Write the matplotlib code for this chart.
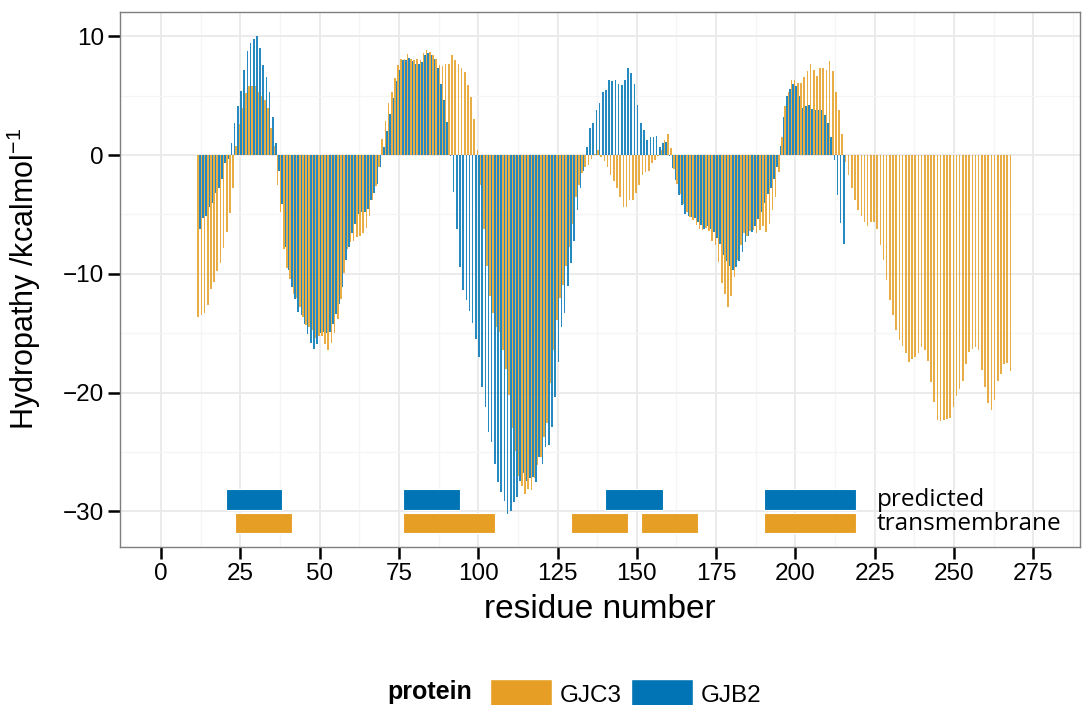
import numpy as np
import matplotlib
matplotlib.use("Agg")
import matplotlib.pyplot as plt
from matplotlib.patches import Patch

plt.rcParams['font.family'] = ['Liberation Sans', 'DejaVu Sans']
plt.rcParams['mathtext.fontset'] = 'custom'
plt.rcParams['mathtext.rm'] = 'Liberation Sans'

# hydropathy values per residue
gjc3_start = 12
gjc3 = [
    -13.6, -13.5, -13.3, -12.6, -11.3, -10.7, -9.8, -9.1, -7.8, -6.5,
    -4.9, -2.8, 0.8, 2.6, 4.0, 5.2, 5.8, 5.8, 5.8, 5.3,
    5.0, 4.6, 4.0, 2.3, 0.8, -2.5, -4.8, -7.9, -9.5, -10.4,
    -11.7, -12.0, -12.8, -13.6, -14.3, -14.5, -14.7, -15.4, -15.2, -15.2,
    -15.9, -16.4, -15.8, -15.0, -13.8, -12.1, -9.9, -7.9, -7.3, -7.2,
    -6.9, -6.8, -6.6, -6.1, -5.1, -3.8, -2.6, -1.0,
    1.35, 2.9, 4.4, 5.3, 6.5, 7.6, 8.1, 8.1, 8.5, 8.1,
    8.0, 8.1, 8.0, 8.6, 8.85, 8.7, 8.4, 8.1, 7.6, 7.5,
    7.7, 7.7, 8.4, 8.0, 7.7, 7.3, 7.0, 5.9, 4.9, 3.0, 0.4,
    -2.5, -6.2, -9.3, -11.9, -13.3, -14.5, -14.9, -16.4, -18.0, -20.2,
    -23.0, -24.9, -27.0, -27.9, -28.5, -28.1, -28.2, -27.2, -26.1, -25.4,
    -23.7, -22.6, -19.2, -16.4, -13.9, -12.0, -10.9, -9.3,
    -7.7, -5.8, -3.5, -2.5, -1.5, -1.0, -0.8, -0.3, 0.1, 0.4,
    -0.2, -0.5, -1.0, -1.7, -2.2, -2.8, -3.5, -4.4, -4.4, -3.8,
    -3.8, -3.2, -2.5, -1.7, -1.4, -1.3, -0.7, -0.4, -0.1, 0.4,
    1.3, 1.8, 0.6,
    -1.2, -2.4, -3.3, -4.1, -4.8, -5.2, -5.5, -5.9, -6.2, -6.3,
    -6.1, -6.4, -7.2, -7.6, -9.0, -10.8, -11.7, -12.8, -11.9, -10.3,
    -8.8, -7.6, -6.6, -6.8, -6.4, -6.3, -6.6, -6.3, -6.0, -6.5,
    -5.8, -4.6, -3.5, -1.4,
    1.5, 4.1, 5.3, 6.3, 6.3, 6.1, 6.1, 6.6, 7.1, 7.7,
    7.2, 6.7, 7.3, 7.3, 7.2, 7.9, 7.1, 5.3, 3.8, 1.8,
    -0.6, -1.7, -2.8, -3.8, -4.6, -5.1, -5.6, -6.0, -5.6, -5.6,
    -6.2, -7.6, -8.8, -10.5, -12.2, -13.5, -14.7, -15.6, -16.1, -16.7,
    -17.4, -17.2, -17.0, -16.7, -16.2, -16.4, -17.3, -19.1, -20.8, -22.3,
    -22.4, -22.3, -22.2, -22.1, -21.2, -20.3, -19.7, -19.0, -17.6, -16.6,
    -16.3, -16.2, -16.4, -18.1, -19.5, -20.9, -21.5, -20.6, -19.0, -18.4,
    -17.6, -17.5, -18.2,
]

gjb2_start = 12
gjb2 = [
    -6.2, -5.3, -5.1, -4.4, -4.0, -3.2, -2.8, -2.0, -0.7, -0.3,
    1.0, 2.7, 4.1, 5.4, 7.2, 8.8, 9.4, 9.8, 10.0, 9.0,
    7.6, 6.6, 5.3, 3.2, 1.0,
    -1.3, -4.1, -7.7, -9.7, -11.1, -12.1, -13.2, -13.5, -14.2, -15.1,
    -15.8, -16.3, -15.9, -15.0, -14.9, -15.0, -14.9, -14.2, -13.4, -12.5,
    -11.1, -8.8, -7.7, -6.6, -5.8, -5.0, -4.8, -4.8, -4.5, -3.8,
    -3.2, -2.4, -1.0,
    0.65, 2.0, 3.5, 4.8, 6.2, 7.2, 8.0, 8.0, 8.2, 7.9,
    7.7, 7.7, 7.8, 8.4, 8.6, 8.4, 8.1, 7.3, 6.0, 4.6, 2.8,
    -0.1, -3.1, -6.2, -9.4, -11.4, -12.2, -13.1, -14.1, -15.5, -17.0,
    -19.5, -21.2, -23.3, -24.2, -26.0, -27.5, -28.4, -29.1, -30.2, -30.0,
    -29.2, -28.8, -27.4, -26.8, -27.4, -27.2, -27.1, -27.5, -25.4, -26.0,
    -24.6, -24.4, -22.9, -20.4, -17.4, -14.5, -13.3, -11.0,
    -9.1, -7.2, -4.6, -2.8, -1.3,
    0.65, 2.3, 2.7, 3.8, 4.4, 5.3, 5.5, 6.3, 6.2, 6.3,
    6.0, 5.9, 6.3, 7.3, 6.9, 6.0, 4.2, 2.7, 2.1, 1.3,
    1.5, 1.5, 1.6, 0.65, 1.0, 1.1,
    -0.1, -1.1, -2.1, -3.4, -4.2, -5.0, -5.1, -5.2, -5.3, -5.6,
    -5.9, -6.2,
    -6.0, -6.2, -6.5, -7.0, -7.5, -8.4, -8.9, -9.3, -9.7, -9.4,
    -8.9, -8.2, -7.3, -6.8, -6.5, -6.0, -5.4, -4.8, -4.0, -3.3,
    -2.8, -2.0, -1.0,
    0.8, 3.2, 5.0, 5.6, 6.0, 5.8, 5.0, 4.0, 4.1, 4.2,
    3.9, 3.8, 3.8, 3.8, 3.4, 2.7, 1.5, -0.4, -3.4, -5.7, -7.5,
]

# predicted transmembrane segments (start, end residue)
tm_gjb2 = [(20.5, 38.1), (76.2, 94.2), (140.1, 158.2), (190.2, 219.1)]
tm_gjc3 = [(23.3, 41.3), (76.2, 105.3), (129.2, 147.1), (151.2, 169.3), (190.2, 219.1)]

orange = '#E69F24'
blue = '#0074B4'

fig = plt.figure(figsize=(10.83, 7.05), dpi=100)
ax = fig.add_axes([0.1108, 0.2241, 0.8862, 0.7589])

x_c3 = np.arange(gjc3_start, gjc3_start + len(gjc3))
x_b2 = np.arange(gjb2_start, gjb2_start + len(gjb2))
ax.bar(x_c3 - 0.25, gjc3, width=0.5, color=orange, alpha=0.85, linewidth=0, zorder=2)
ax.bar(x_b2 + 0.25, gjb2, width=0.5, color=blue, alpha=0.85, linewidth=0, zorder=2)

# transmembrane boxes
ax.broken_barh([(s, e - s) for s, e in tm_gjb2], (-29.85, 1.7),
               facecolor=blue, edgecolor='white', linewidth=0.8, zorder=3)
ax.broken_barh([(s, e - s) for s, e in tm_gjc3], (-31.85, 1.7),
               facecolor=orange, edgecolor='white', linewidth=0.8, zorder=3)
ax.text(225.6, -29.0, 'predicted', family=['Open Sans', 'DejaVu Sans'],
        fontsize=17.5, va='center', ha='left', zorder=4)
ax.text(225.6, -31.1, 'transmembrane', family=['Open Sans', 'DejaVu Sans'],
        fontsize=17.5, va='center', ha='left', zorder=4)

ax.set_xlim(-12.9, 289.6)
ax.set_ylim(-33.0, 12.05)
ax.set_xticks(np.arange(0, 276, 25))
ax.set_xticks(np.arange(12.5, 290, 25), minor=True)
ax.set_yticks([-30, -20, -10, 0, 10])
ax.set_yticks([-25, -15, -5, 5], minor=True)
ax.grid(which='major', color='#EBEBEB', linewidth=1.4, zorder=0)
ax.grid(which='minor', color='#F5F5F5', linewidth=1.0, zorder=0)
ax.set_axisbelow(True)

ax.tick_params(which='major', direction='out', length=8.5, width=1.8,
               color='black', labelsize=17.5, pad=3)
ax.tick_params(which='minor', length=0)
for sp in ax.spines.values():
    sp.set_color('#7F7F7F')
    sp.set_linewidth(1.0)

ax.set_xlabel('residue number', fontsize=24)
ax.xaxis.set_label_coords(0.5, -0.088)
ax.set_ylabel('Hydropathy /kcalmol$^{-1}$', fontsize=22)
ax.yaxis.set_label_coords(-0.08, 0.5)

# legend along the bottom
fig.text(472 / 1083, 1 - 692 / 705, 'protein', fontsize=18, fontweight='bold',
         ha='right', va='center')
handles = [Patch(facecolor=orange, edgecolor='white'),
           Patch(facecolor=blue, edgecolor='white')]
fig.legend(handles, ['GJC3', 'GJB2'], ncol=2, loc='center left',
           bbox_to_anchor=(490 / 1083, 1 - 694 / 705), frameon=False,
           fontsize=17.5, handlelength=2.55, handleheight=1.5,
           handletextpad=0.3, columnspacing=0.4, borderpad=0, borderaxespad=0)

fig.savefig('out.png', dpi=100)
